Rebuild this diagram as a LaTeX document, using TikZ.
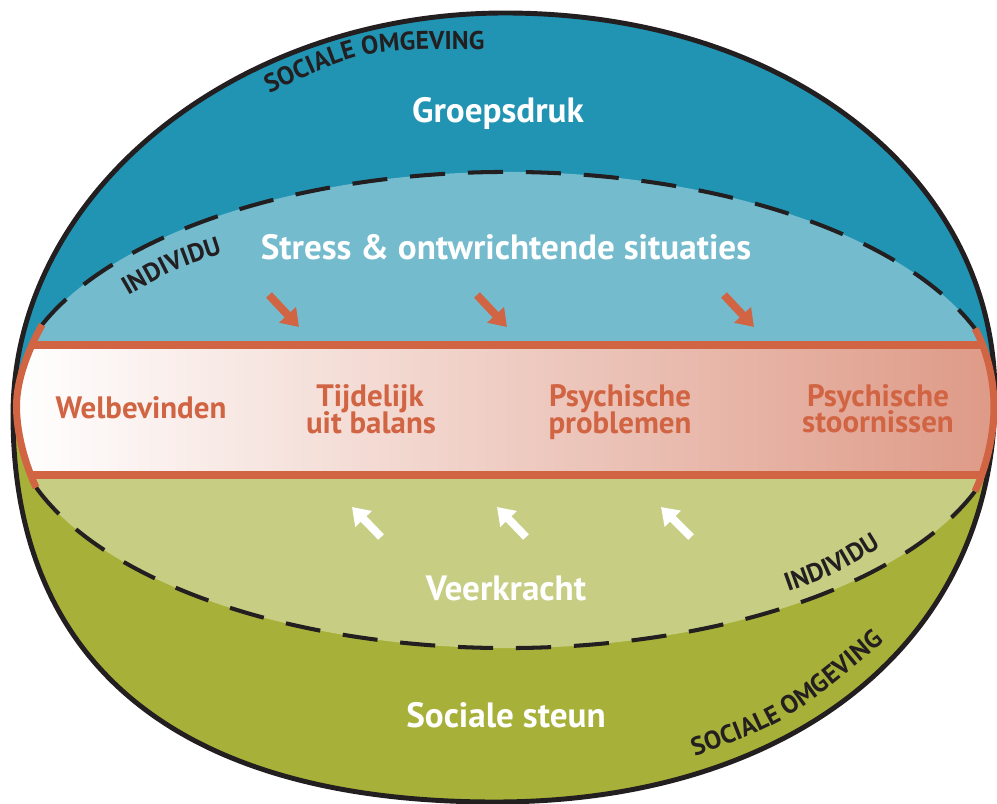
\documentclass[tikz,border=0pt]{standalone}
\usepackage{fontspec}
\setmainfont{PT Sans}
\usetikzlibrary{arrows.meta,decorations.text}
\definecolor{darkblue}{RGB}{33,148,179}
\definecolor{lightblue}{RGB}{116,187,206}
\definecolor{olivegreen}{RGB}{167,176,56}
\definecolor{lightgreen}{RGB}{199,206,132}
\definecolor{redline}{RGB}{209,100,66}
\definecolor{bandright}{RGB}{222,154,135}
\definecolor{outlineblack}{RGB}{35,31,32}
\newcommand\curvefont{\bfseries\fontsize{14.6}{16}\selectfont}
\tikzset{
  biglabel/.style={font=\bfseries\fontsize{20}{23}\selectfont, text=white, anchor=base, inner sep=0pt},
  bandlabel/.style={font=\bfseries\fontsize{17.6}{20}\selectfont, text=redline, anchor=base, inner sep=0pt},
  redarrow/.style={draw=redline, line width=4.5pt, -{Triangle[length=9.5pt,width=12.5pt]}},
  whitearrow/.style={draw=white, line width=4.5pt, -{Triangle[length=9.5pt,width=12.5pt]}},
  redstroke/.style={draw=redline, line width=4pt},
  dashline/.style={draw=outlineblack, line width=2.3pt, dash pattern=on 20pt off 13pt},
  outerline/.style={draw=outlineblack, line width=2.8pt},
  curvetext/.style={decorate, decoration={text along path, text align=center, text color=outlineblack, text={|\curvefont|#1}}}
}
\begin{document}
\begin{tikzpicture}[x=0.02cm,y=-0.02cm]
\useasboundingbox (0,0) rectangle (997,804);
\coordinate (c) at (507,410);
% coloured layers
\begin{scope}
  \clip (505,13) .. controls (785.8,13) and (995,176.1) .. (995,395)
        .. controls (995,639.2) and (795,802) .. (495,802)
        .. controls (181.7,802) and (13,666.6) .. (13,415)
        .. controls (13,193.9) and (234.4,13) .. (505,13) -- cycle;
  \fill[darkblue] (0,0) rectangle (997,408);
  \fill[olivegreen] (0,408) rectangle (997,804);
  \fill[lightblue] (c) ++(-159:498 and 238) arc[start angle=-159, end angle=-20, x radius=498, y radius=238]
     .. controls (987,350) and (994,380) .. (994,407) -- (16.5,406) .. controls (16.5,380) and (28,350) .. cycle;
  \fill[lightgreen] (c) ++(20:498 and 238) arc[start angle=20, end angle=161, x radius=498, y radius=238]
     .. controls (26,466) and (16.5,435) .. (16.5,406) -- (994,407) .. controls (994,435) and (986,468) .. cycle;
  \draw[dashline] (c) ++(-159:498 and 238) arc[start angle=-159, end angle=-20, x radius=498, y radius=238];
  \draw[dashline] (c) ++(20:498 and 238) arc[start angle=20, end angle=161, x radius=498, y radius=238];
\end{scope}
\draw[outerline] (505,13) .. controls (785.8,13) and (995,176.1) .. (995,395)
        .. controls (995,639.2) and (795,802) .. (495,802)
        .. controls (181.7,802) and (13,666.6) .. (13,415)
        .. controls (13,193.9) and (234.4,13) .. (505,13) -- cycle;
% band
\begin{scope}
  \clip (42.1,324.7) -- (975,328.6) .. controls (987,350) and (994,380) .. (994,407) .. controls (994,435) and (986,468) .. (975,491.4)
        -- (36.1,487.5) .. controls (26,466) and (16.5,435) .. (16.5,406) .. controls (16.5,380) and (28,350) .. (42.1,324.7) -- cycle;
  \shade[left color=white, right color=bandright] (16,345) rectangle (995,475);
  \draw[redstroke] (0,345) -- (997,345);
  \draw[redstroke] (0,475) -- (997,475);
\end{scope}
\draw[redstroke] (42.1,324.7) .. controls (28,350) and (16.5,380) .. (16.5,406) .. controls (16.5,435) and (26,466) .. (36.1,487.5);
\draw[redstroke] (975,328.6) .. controls (987,350) and (994,380) .. (994,407) .. controls (994,435) and (986,468) .. (975,491.4);
% curved labels
\path[curvetext={SOCIALE OMGEVING}] (254.4,100.4) -- (268,94) .. controls (364,49) .. (486,49) -- (501,49);
\path[curvetext={INDIVIDU}] (115,303.5) -- (128,296) .. controls (175.6,268.5) .. (223,253) -- (237.3,248.3);
\path[curvetext={INDIVIDU}] (772.9,597) -- (787,592) .. controls (835,575) .. (882,546) -- (894.8,538.1);
\path[curvetext={SOCIALE OMGEVING}] (680.9,761.1) -- (695,756) .. controls (788,722) .. (884,642) -- (895.5,632.4);
% labels
\node[biglabel] (groep) at (498,123) {Groepsdruk};
\node[biglabel] (stress) at (506,259) {Stress \& ontwrichtende situaties};
\node[biglabel] (veer) at (506,600) {Veerkracht};
\node[biglabel] (steun) at (506,727) {Sociale steun};
\node[bandlabel] (welb) at (141,418) {Welbevinden};
\node[bandlabel] (tijd1) at (370,406) {Tijdelijk};
\node[bandlabel] (tijd2) at (371,433) {uit balans};
\node[bandlabel] (pp1) at (620,406) {Psychische};
\node[bandlabel] (pp2) at (620,433) {problemen};
\node[bandlabel] (ps1) at (878,406) {Psychische};
\node[bandlabel] (ps2) at (878,432) {stoornissen};
% arrows
\coordinate (ra1s) at (269,295); \coordinate (ra1e) at (299,327);
\coordinate (ra2s) at (477,295); \coordinate (ra2e) at (507,327);
\coordinate (ra3s) at (724,295); \coordinate (ra3e) at (754,327);
\coordinate (wa1s) at (381,537); \coordinate (wa1e) at (352,507);
\coordinate (wa2s) at (526,537); \coordinate (wa2e) at (497,507);
\coordinate (wa3s) at (691,537); \coordinate (wa3e) at (661,507);
\draw[redarrow] (ra1s) -- (ra1e);
\draw[redarrow] (ra2s) -- (ra2e);
\draw[redarrow] (ra3s) -- (ra3e);
\draw[whitearrow] (wa1s) -- (wa1e);
\draw[whitearrow] (wa2s) -- (wa2e);
\draw[whitearrow] (wa3s) -- (wa3e);
\end{tikzpicture}
\end{document}
